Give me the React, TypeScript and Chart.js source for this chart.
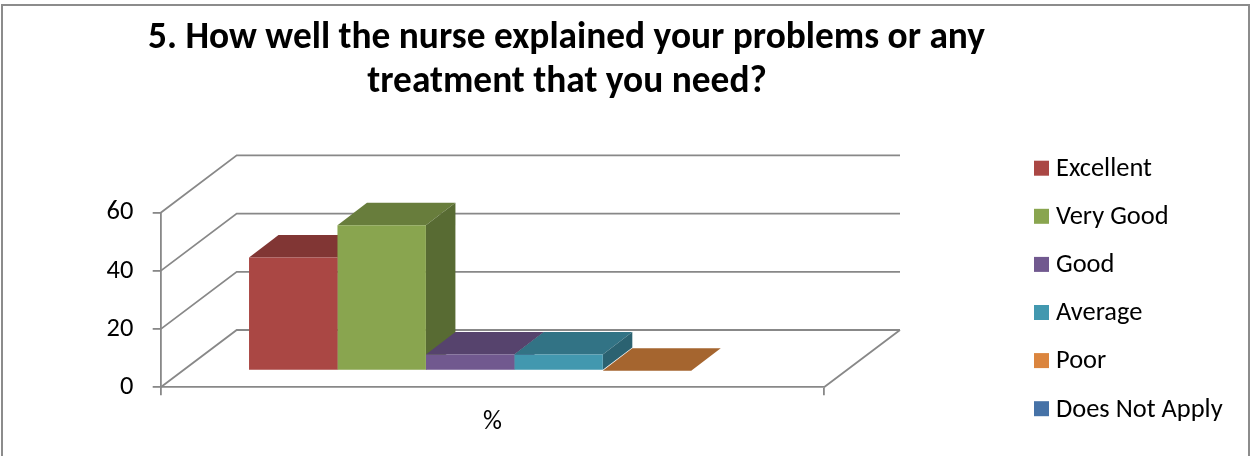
import React, { useEffect, useRef } from 'react';
import { Chart, registerables } from 'chart.js';

Chart.register(...registerables);

// ---------- data ----------
const CATEGORIES = ['%'];
const SERIES_NAMES = ['Excellent', 'Very Good', 'Good', 'Average', 'Poor', 'Does Not Apply'];
const SERIES_VALUES: (number | null)[] = [38.9, 50, 5.6, 5.6, 0, null];
const Y_MIN = 0;
const Y_MAX = 60;
const Y_STEP = 20;
const TITLE_LINES = ['5. How well the nurse explained your problems or any', 'treatment that you need?'];

// ---------- style ----------
const FONT = 'Carlito, Lato, "Open Sans", sans-serif';
const BASE_COLORS = ['#C0504D', '#9BBB59', '#8064A2', '#4BACC6', '#F79646', '#4F81BD'];
const FRONT_F = 0.885;
const TOP_F = 0.67;
const SIDE_F = 0.57;
const LINE_COLOR = '#888888';
const LINE_W = 1.8;

// 3D geometry (oblique projection)
const WALL_DX = 76;
const WALL_DY = -57.3;
const BAR_DX = 22;
const BAR_DY = -16.6;
const BAR_DEPTH_DX = 29.5;
const BAR_DEPTH_DY = -22.4;

function shade(hex: string, f: number): string {
  const n = parseInt(hex.slice(1), 16);
  const r = Math.round(((n >> 16) & 255) * f);
  const g = Math.round(((n >> 8) & 255) * f);
  const b = Math.round((n & 255) * f);
  return `rgb(${r},${g},${b})`;
}

function fitSize(text: string, weight: string, target: number): number {
  const c = document.createElement('canvas').getContext('2d')!;
  c.font = `${weight} 100px ${FONT}`;
  return (100 * target) / c.measureText(text).width;
}

export default function App() {
  const ref = useRef<HTMLCanvasElement | null>(null);

  useEffect(() => {
    if (!ref.current) return;
    const titleSize = fitSize(TITLE_LINES[0], 'bold', 837);
    const textSize = fitSize('Does Not Apply', 'normal', 166.7);

    const fronts = BASE_COLORS.map((c) => shade(c, FRONT_F));
    const tops = BASE_COLORS.map((c) => shade(c, TOP_F));
    const sides = BASE_COLORS.map((c) => shade(c, SIDE_F));

    const plugin = {
      id: 'excel3d',
      beforeDatasetsDraw(chart: any) {
        const { ctx, chartArea: a, scales } = chart;
        const ys = scales.y;
        ctx.save();
        ctx.strokeStyle = LINE_COLOR;
        ctx.lineWidth = LINE_W;
        ctx.beginPath();
        for (const t of ys.ticks) {
          const py = ys.getPixelForValue(t.value);
          ctx.moveTo(a.left, py);
          ctx.lineTo(a.left + WALL_DX, py + WALL_DY);
          ctx.lineTo(a.right + WALL_DX, py + WALL_DY);
        }
        const p0 = ys.getPixelForValue(Y_MIN);
        ctx.moveTo(a.right, p0);
        ctx.lineTo(a.right + WALL_DX, p0 + WALL_DY);
        ctx.stroke();
        ctx.restore();

        // bars: tops & sides, left to right; fronts are drawn by Chart.js afterwards
        ctx.save();
        ctx.translate(BAR_DX, BAR_DY);
        chart.data.datasets.forEach((ds: any, i: number) => {
          const meta = chart.getDatasetMeta(i);
          meta.data.forEach((el: any, j: number) => {
            const v = ds.data[j];
            if (v === null || v === undefined) return;
            const { x, y, base, width } = el.getProps(['x', 'y', 'base', 'width'], true);
            const l = x - width / 2;
            const r = x + width / 2;
            ctx.fillStyle = tops[i];
            ctx.beginPath();
            ctx.moveTo(l, y);
            ctx.lineTo(r, y);
            ctx.lineTo(r + BAR_DEPTH_DX, y + BAR_DEPTH_DY);
            ctx.lineTo(l + BAR_DEPTH_DX, y + BAR_DEPTH_DY);
            ctx.closePath();
            ctx.fill();
            if (base - y > 0.1) {
              ctx.fillStyle = sides[i];
              ctx.beginPath();
              ctx.moveTo(r, y);
              ctx.lineTo(r + BAR_DEPTH_DX, y + BAR_DEPTH_DY);
              ctx.lineTo(r + BAR_DEPTH_DX, base + BAR_DEPTH_DY);
              ctx.lineTo(r, base);
              ctx.closePath();
              ctx.fill();
            }
          });
        });
      },
      afterDatasetsDraw(chart: any) {
        chart.ctx.restore();
      },
      afterDraw(chart: any) {
        const { ctx } = chart;
        ctx.save();
        // outer border
        ctx.strokeStyle = '#8c8c8c';
        ctx.lineWidth = 2;
        ctx.strokeRect(2, 5, 1247, 480);
        // title
        ctx.fillStyle = '#000';
        ctx.textAlign = 'center';
        ctx.textBaseline = 'alphabetic';
        ctx.font = `bold ${titleSize}px ${FONT}`;
        ctx.fillText(TITLE_LINES[0], 566.5, 48.3);
        ctx.fillText(TITLE_LINES[1], 567, 91.7);
        // legend
        ctx.textAlign = 'left';
        ctx.font = `${textSize}px ${FONT}`;
        chart.data.datasets.forEach((ds: any, i: number) => {
          ctx.fillStyle = fronts[i];
          ctx.fillRect(1034, 160.7 + 48.1 * i, 15, 15);
          ctx.fillStyle = '#000';
          ctx.fillText(ds.label, 1056, 176 + 48.1 * i);
        });
        ctx.restore();
      },
    };

    const chart = new Chart(ref.current, {
      type: 'bar',
      data: {
        labels: CATEGORIES,
        datasets: SERIES_NAMES.map((name, i) => ({
          label: name,
          data: [SERIES_VALUES[i]],
          backgroundColor: fronts[i],
          borderWidth: 0,
          categoryPercentage: 0.8,
          barPercentage: 1,
          clip: false as any,
        })),
      },
      options: {
        responsive: false,
        animation: false,
        devicePixelRatio: 1,
        layout: { padding: { left: 100.7, right: 426, top: 212.7, bottom: 8.7 } },
        plugins: {
          legend: { display: false },
          title: { display: false },
          tooltip: { enabled: false },
        },
        scales: {
          x: {
            afterFit: (s: any) => {
              s.height = 60;
            },
            grid: {
              drawOnChartArea: false,
              drawTicks: true,
              tickLength: 8,
              color: LINE_COLOR,
              lineWidth: LINE_W,
              offset: true,
            },
            border: { display: true, color: LINE_COLOR, width: LINE_W },
            ticks: { color: '#000', font: { family: FONT, size: textSize }, padding: 11 },
          },
          y: {
            min: Y_MIN,
            max: Y_MAX,
            afterFit: (s: any) => {
              s.width = 60;
            },
            grid: {
              drawOnChartArea: false,
              drawTicks: true,
              tickLength: 8,
              color: LINE_COLOR,
              lineWidth: LINE_W,
            },
            border: { display: true, color: LINE_COLOR, width: LINE_W },
            ticks: {
              stepSize: Y_STEP,
              color: '#000',
              font: { family: FONT, size: textSize },
              padding: 19.4,
            },
          },
        },
      },
      plugins: [plugin],
    });
    return () => chart.destroy();
  }, []);

  return (
    <div style={{ position: 'absolute', left: 0, top: 0, width: 1250, height: 456, background: '#fff' }}>
      <canvas ref={ref} width={1250} height={456} style={{ display: 'block' }} />
    </div>
  );
}
